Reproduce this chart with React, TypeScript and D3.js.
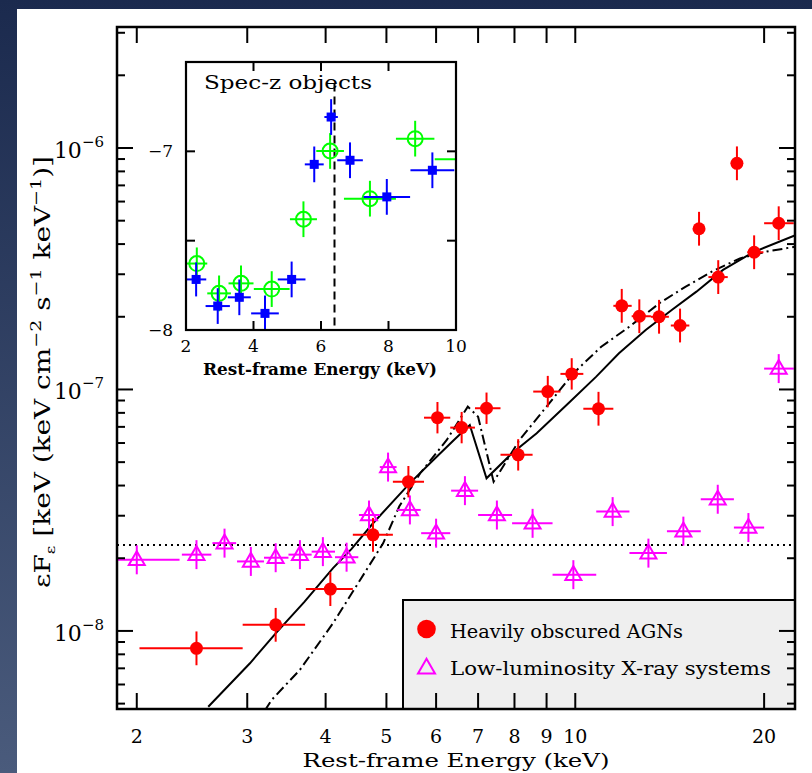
import React from 'react';
import * as d3 from 'd3';

// main panel points: [energy, eLow, eHigh, flux, error in dex]
const agnPoints = [
  [2.49, 2.02, 2.95, 8.47e-9, 0.07],
  [3.33, 2.95, 3.71, 1.06e-8, 0.07],
  [4.07, 3.72, 4.42, 1.49e-8, 0.07],
  [4.76, 4.42, 5.12, 2.5e-8, 0.07],
  [5.42, 5.12, 5.74, 4.15e-8, 0.065],
  [6.03, 5.74, 6.32, 7.64e-8, 0.065],
  [6.59, 6.32, 6.92, 6.95e-8, 0.065],
  [7.22, 6.92, 7.6, 8.36e-8, 0.065],
  [8.11, 7.6, 8.55, 5.36e-8, 0.065],
  [9.04, 8.57, 9.47, 9.8e-8, 0.065],
  [9.87, 9.47, 10.3, 1.16e-7, 0.065],
  [10.89, 10.3, 11.5, 8.32e-8, 0.07],
  [11.86, 11.5, 12.3, 2.22e-7, 0.07],
  [12.65, 12.3, 13.2, 2.01e-7, 0.07],
  [13.6, 13.2, 14.1, 2.0e-7, 0.07],
  [14.69, 14.2, 15.2, 1.84e-7, 0.07],
  [15.75, 15.4, 16.1, 4.63e-7, 0.07],
  [16.9, 16.3, 17.5, 2.92e-7, 0.07],
  [18.1, 17.7, 18.5, 8.64e-7, 0.07],
  [19.28, 18.8, 19.95, 3.7e-7, 0.07],
  [21.1, 20.0, 22.3, 4.88e-7, 0.07],
];

const llxPoints = [
  [2.0, 1.7, 2.34, 1.97e-8, 0.06],
  [2.49, 2.36, 2.63, 2.07e-8, 0.06],
  [2.76, 2.64, 2.88, 2.31e-8, 0.06],
  [3.04, 2.89, 3.19, 1.94e-8, 0.06],
  [3.33, 3.19, 3.49, 2.01e-8, 0.06],
  [3.64, 3.49, 3.8, 2.07e-8, 0.06],
  [3.96, 3.8, 4.14, 2.13e-8, 0.06],
  [4.32, 4.14, 4.51, 2.02e-8, 0.06],
  [4.69, 4.52, 4.88, 3.02e-8, 0.06],
  [5.03, 4.88, 5.19, 4.77e-8, 0.06],
  [5.45, 5.2, 5.67, 3.17e-8, 0.06],
  [6.0, 5.68, 6.32, 2.54e-8, 0.06],
  [6.67, 6.34, 7.0, 3.81e-8, 0.06],
  [7.5, 7.0, 7.93, 3.02e-8, 0.06],
  [8.55, 7.93, 9.2, 2.79e-8, 0.06],
  [9.93, 9.2, 10.8, 1.71e-8, 0.06],
  [11.47, 10.8, 12.2, 3.12e-8, 0.06],
  [13.08, 12.2, 14.0, 2.1e-8, 0.06],
  [14.87, 14.0, 15.85, 2.59e-8, 0.06],
  [16.87, 15.85, 17.9, 3.51e-8, 0.06],
  [18.88, 17.9, 20.0, 2.68e-8, 0.06],
  [21.1, 20.0, 22.3, 1.22e-7, 0.06],
];

// model curves: [energy, log10 flux]
const modelSolid = [
  [2.6, -8.314], [3.03, -8.134], [3.33, -8.01], [3.7, -7.88], [4.11, -7.74],
  [4.4, -7.66], [4.76, -7.554], [5.45, -7.388], [5.94, -7.292], [6.4, -7.21],
  [6.79, -7.147], [7.22, -7.368], [7.93, -7.264], [8.68, -7.181], [9.77, -7.055],
  [10.8, -6.947], [11.74, -6.85], [12.95, -6.754], [14.3, -6.668], [15.6, -6.595],
  [17.2, -6.505], [19.2, -6.432], [22.5, -6.36],
];

const modelDashDot = [
  [3.2, -8.33], [3.28, -8.286], [3.64, -8.161], [4.11, -7.968], [4.54, -7.789],
  [4.94, -7.637], [5.24, -7.485], [5.66, -7.347], [6.24, -7.209], [6.74, -7.071],
  [7.0, -7.113], [7.41, -7.382], [8.15, -7.209], [9.0, -7.071], [9.93, -6.933],
  [11.0, -6.823], [12.2, -6.74], [13.65, -6.641], [15.0, -6.574], [16.5, -6.512],
  [18.3, -6.457], [20.2, -6.429], [22.5, -6.408],
];

const fluxLevel = 2.27e-8;

const xTickValues = [2, 3, 4, 5, 6, 7, 8, 9, 10, 20];
const yDecades = [-8, -7, -6];

// inset: [energy, eLow, eHigh, log10 flux, error]
const insetBlue = [
  [2.3, 1.95, 2.6, -7.717, 0.095],
  [2.94, 2.58, 3.3, -7.866, 0.1],
  [3.58, 3.24, 3.92, -7.817, 0.1],
  [4.34, 3.93, 4.75, -7.907, 0.1],
  [5.13, 4.72, 5.54, -7.717, 0.1],
  [5.8, 5.52, 6.08, -7.073, 0.1],
  [6.3, 6.1, 6.5, -6.808, 0.1],
  [6.86, 6.48, 7.24, -7.05, 0.1],
  [7.95, 7.26, 8.64, -7.255, 0.1],
  [9.3, 8.65, 9.95, -7.106, 0.1],
];

const insetGreen = [
  [2.32, 2.01, 2.63, -7.628, 0.09],
  [2.98, 2.63, 3.33, -7.795, 0.1],
  [3.63, 3.26, 4.0, -7.739, 0.1],
  [4.54, 4.01, 5.07, -7.771, 0.1],
  [5.48, 5.08, 5.88, -7.38, 0.1],
  [6.27, 5.86, 6.68, -6.998, 0.1],
  [7.45, 6.68, 8.22, -7.265, 0.1],
  [8.79, 8.22, 9.36, -6.929, 0.1],
  [10.35, 9.37, 11.3, -7.045, 0.1],
];

const insetXTicks = [2, 4, 6, 8, 10];
const insetYLabels = [-8, -7];
const insetYTicks = [-8, -7.5, -7];
const ironLine = 6.4;

const W = 812;
const H = 773;
const frame = { left: 117, right: 795, top: 27, bottom: 709 };
const box = { left: 186, right: 456, top: 62, bottom: 330 };
const FONT = '"DejaVu Serif", serif';

const RED = '#ff0000';
const MAGENTA = '#ff00ff';
const BLUE = '#0000ff';
const GREEN = '#00ff00';

export default function App() {
  const x = d3.scaleLog().domain([1.86, 22.4]).range([frame.left, frame.right]);
  const y = d3.scaleLog().domain([4.75e-9, 3.17e-6]).range([frame.bottom, frame.top]);
  const ix = d3.scaleLinear().domain([2, 10]).range([box.left, box.right]);
  const iy = d3.scaleLinear().domain([-8, -6.5]).range([box.bottom, box.top]);

  const logLine = d3.line<number[]>()
    .x(d => x(d[0]))
    .y(d => y(Math.pow(10, d[1])));

  // minor y ticks for the log axis
  const yMinor: number[] = [];
  for (let k = -9; k <= -6; k++) {
    for (let m = 2; m <= 9; m++) {
      const v = m * Math.pow(10, k);
      if (v > 4.75e-9 && v < 3.17e-6) yMinor.push(v);
    }
  }

  const tri = (cx: number, cy: number, s: number) => {
    const h = s * 0.866;
    return `M${cx},${cy - h * 0.62}L${cx + s / 2},${cy + h * 0.38}L${cx - s / 2},${cy + h * 0.38}Z`;
  };

  return (
    <svg width={W} height={H} style={{ position: 'absolute', left: 0, top: 0 }}>
      <defs>
        <linearGradient id="bg" x1="0" y1="0" x2="0" y2="1">
          <stop offset="0" stopColor="#1b2a4e" />
          <stop offset="1" stopColor="#4a5b7c" />
        </linearGradient>
        <clipPath id="mainClip">
          <rect x={frame.left} y={frame.top} width={frame.right - frame.left} height={frame.bottom - frame.top} />
        </clipPath>
        <clipPath id="insetClip">
          <rect x={box.left} y={box.top} width={box.right - box.left} height={box.bottom - box.top} />
        </clipPath>
      </defs>

      <rect x={0} y={0} width={W} height={H} fill="url(#bg)" />
      <rect x={17} y={9} width={W - 17} height={H - 9} fill="#ffffff" />

      {/* main plot contents */}
      <g clipPath="url(#mainClip)">
        <line x1={frame.left} x2={frame.right} y1={y(fluxLevel)} y2={y(fluxLevel)}
          stroke="#000" strokeWidth={2} strokeDasharray="2,4" />
        <path d={logLine(modelSolid) || ''} fill="none" stroke="#000" strokeWidth={2} />
        <path d={logLine(modelDashDot) || ''} fill="none" stroke="#000" strokeWidth={2}
          strokeDasharray="10,4,2,4" />

        {llxPoints.map((d, i) => (
          <g key={'l' + i} stroke={MAGENTA} strokeWidth={2} fill="none">
            <line x1={x(d[1])} x2={x(d[2])} y1={y(d[3])} y2={y(d[3])} />
            <line x1={x(d[0])} x2={x(d[0])} y1={y(d[3] * Math.pow(10, d[4]))} y2={y(d[3] / Math.pow(10, d[4]))} />
            <path d={tri(x(d[0]), y(d[3]), 16)} />
          </g>
        ))}

        {agnPoints.map((d, i) => (
          <g key={'a' + i} stroke={RED} strokeWidth={2}>
            <line x1={x(d[1])} x2={x(d[2])} y1={y(d[3])} y2={y(d[3])} />
            <line x1={x(d[0])} x2={x(d[0])} y1={y(d[3] * Math.pow(10, d[4]))} y2={y(d[3] / Math.pow(10, d[4]))} />
            <circle cx={x(d[0])} cy={y(d[3])} r={6.5} fill={RED} stroke="none" />
          </g>
        ))}
      </g>

      {/* legend */}
      <rect x={403} y={600} width={frame.right - 403} height={frame.bottom - 600} fill="#efefef" stroke="#000" strokeWidth={2} />
      <circle cx={426.5} cy={629} r={9.3} fill={RED} />
      <text x={450} y={637.5} fontFamily={FONT} fontSize={19} textLength={233} lengthAdjust="spacingAndGlyphs">Heavily obscured AGNs</text>
      <path d={tri(426.5, 668, 17)} fill="none" stroke={MAGENTA} strokeWidth={2} />
      <text x={450} y={675} fontFamily={FONT} fontSize={19} textLength={321} lengthAdjust="spacingAndGlyphs">Low-luminosity X-ray systems</text>

      {/* main axes */}
      <g stroke="#000" strokeWidth={2}>
        {xTickValues.map(t => (
          <g key={'xt' + t}>
            <line x1={x(t)} x2={x(t)} y1={frame.bottom} y2={frame.bottom - 16} />
            <line x1={x(t)} x2={x(t)} y1={frame.top} y2={frame.top + 16} />
          </g>
        ))}
        {yDecades.map(k => (
          <g key={'yd' + k}>
            <line x1={frame.left} x2={frame.left + 16} y1={y(Math.pow(10, k))} y2={y(Math.pow(10, k))} />
            <line x1={frame.right} x2={frame.right - 16} y1={y(Math.pow(10, k))} y2={y(Math.pow(10, k))} />
          </g>
        ))}
        {yMinor.map((v, i) => (
          <g key={'ym' + i}>
            <line x1={frame.left} x2={frame.left + 8} y1={y(v)} y2={y(v)} />
            <line x1={frame.right} x2={frame.right - 8} y1={y(v)} y2={y(v)} />
          </g>
        ))}
      </g>
      <rect x={frame.left} y={frame.top} width={frame.right - frame.left} height={frame.bottom - frame.top}
        fill="none" stroke="#000" strokeWidth={2.5} />

      {xTickValues.map(t => (
        <text key={'xl' + t} x={x(t)} y={743} textAnchor="middle" fontFamily={FONT} fontSize={19}>{t}</text>
      ))}
      {yDecades.map(k => (
        <text key={'yl' + k} x={104} y={y(Math.pow(10, k)) + 10} textAnchor="end" fontFamily={FONT} fontSize={22}>
          10<tspan dy={-11} fontSize={15}>{'\u2212' + Math.abs(k)}</tspan>
        </text>
      ))}
      <text x={(frame.left + frame.right) / 2} y={767} textAnchor="middle" fontFamily={FONT} fontSize={19}
        textLength={307} lengthAdjust="spacingAndGlyphs">Rest-frame Energy (keV)</text>
      <text transform={`translate(50,${(frame.top + frame.bottom) / 2 + 4}) rotate(-90)`} textAnchor="middle"
        fontFamily={FONT} fontSize={22} textLength={432} lengthAdjust="spacingAndGlyphs">
        εF<tspan dy={5} fontSize={13}>ε</tspan>
        <tspan dy={-5}> [keV (keV cm</tspan>
        <tspan dy={-9} fontSize={15}>−2</tspan>
        <tspan dy={9}> s</tspan>
        <tspan dy={-9} fontSize={15}>−1</tspan>
        <tspan dy={9}> keV</tspan>
        <tspan dy={-9} fontSize={15}>−1</tspan>
        <tspan dy={9}>)]</tspan>
      </text>

      {/* inset */}
      <rect x={box.left} y={box.top} width={box.right - box.left} height={box.bottom - box.top} fill="#fff" />
      <g clipPath="url(#insetClip)">
        <line x1={ix(ironLine)} x2={ix(ironLine)} y1={iy(-6.62)} y2={box.bottom}
          stroke="#000" strokeWidth={2} strokeDasharray="8,5" />
        {insetGreen.map((d, i) => (
          <g key={'g' + i} stroke={GREEN} strokeWidth={2} fill="none">
            <line x1={ix(d[1])} x2={ix(d[2])} y1={iy(d[3])} y2={iy(d[3])} />
            <line x1={ix(d[0])} x2={ix(d[0])} y1={iy(d[3] + d[4])} y2={iy(d[3] - d[4])} />
            <circle cx={ix(d[0])} cy={iy(d[3])} r={7.5} />
          </g>
        ))}
        {insetBlue.map((d, i) => (
          <g key={'b' + i} stroke={BLUE} strokeWidth={2}>
            <line x1={ix(d[1])} x2={ix(d[2])} y1={iy(d[3])} y2={iy(d[3])} />
            <line x1={ix(d[0])} x2={ix(d[0])} y1={iy(d[3] + d[4])} y2={iy(d[3] - d[4])} />
            <rect x={ix(d[0]) - 4.5} y={iy(d[3]) - 4.5} width={9} height={9} fill={BLUE} stroke="none" />
          </g>
        ))}
      </g>
      <g stroke="#000" strokeWidth={2}>
        {insetXTicks.map(t => (
          <g key={'ixt' + t}>
            <line x1={ix(t)} x2={ix(t)} y1={box.bottom} y2={box.bottom - 9} />
            <line x1={ix(t)} x2={ix(t)} y1={box.top} y2={box.top + 9} />
          </g>
        ))}
        {insetYTicks.map(t => (
          <g key={'iyt' + t}>
            <line x1={box.left} x2={box.left + 9} y1={iy(t)} y2={iy(t)} />
            <line x1={box.right} x2={box.right - 9} y1={iy(t)} y2={iy(t)} />
          </g>
        ))}
      </g>
      <rect x={box.left} y={box.top} width={box.right - box.left} height={box.bottom - box.top}
        fill="none" stroke="#000" strokeWidth={2.2} />
      <text x={204} y={89} fontFamily={FONT} fontSize={19} textLength={168} lengthAdjust="spacingAndGlyphs">Spec-z objects</text>
      {insetXTicks.map(t => (
        <text key={'ixl' + t} x={ix(t)} y={352} textAnchor="middle" fontFamily={FONT} fontSize={17}>{t}</text>
      ))}
      {insetYLabels.map(t => (
        <text key={'iyl' + t} x={173} y={iy(t) + 6} textAnchor="end" fontFamily={FONT} fontSize={17}>{'\u2212' + Math.abs(t)}</text>
      ))}
      <text x={320} y={375} textAnchor="middle" fontFamily={FONT} fontSize={17} fontWeight="bold"
        textLength={234} lengthAdjust="spacingAndGlyphs">Rest-frame Energy (keV)</text>
    </svg>
  );
}
